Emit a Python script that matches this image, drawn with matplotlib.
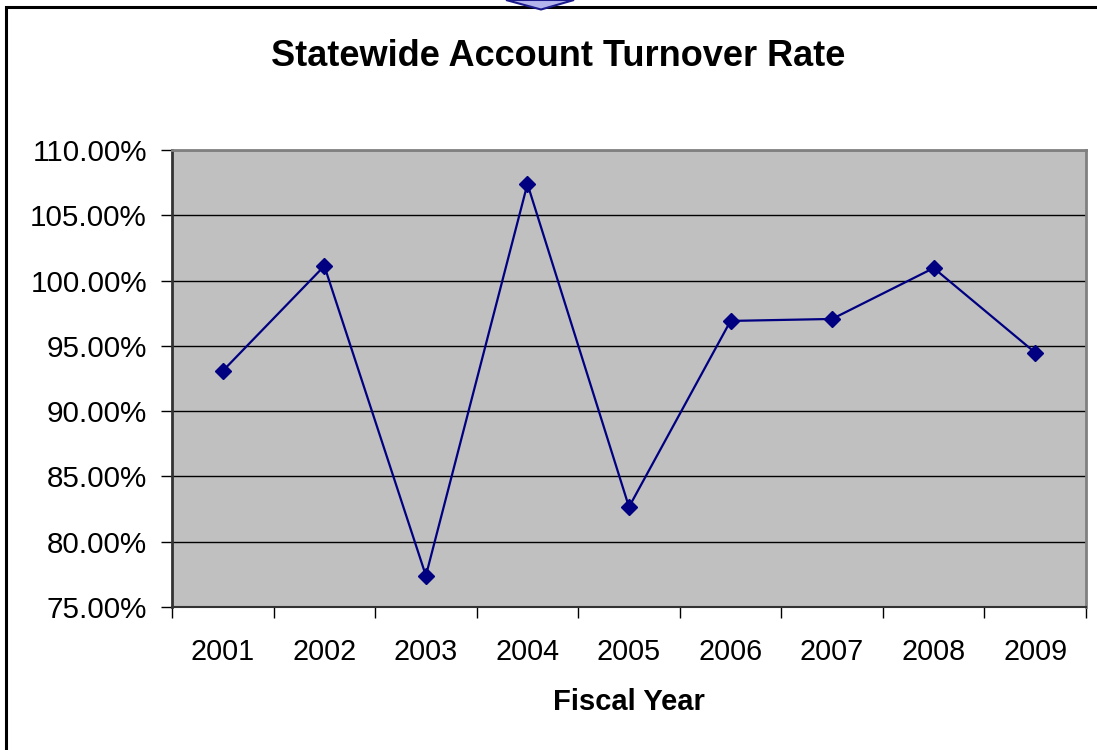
import matplotlib
matplotlib.use("Agg")
import matplotlib.pyplot as plt
from matplotlib.patches import Rectangle, Polygon
from matplotlib.ticker import FixedLocator, FuncFormatter

plt.rcParams['font.family'] = ['Liberation Sans', 'DejaVu Sans']

years = ['2001', '2002', '2003', '2004', '2005', '2006', '2007', '2008', '2009']
turnover_rate = [93.08, 101.12, 77.40, 107.40, 82.66, 96.91, 97.06, 100.96, 94.48]

fig = plt.figure(figsize=(10.97, 7.5), dpi=100)
ax = fig.add_axes([172 / 1097, 1 - 607 / 750, 914 / 1097, 457 / 750])

# outer chart frame (runs off the right/bottom edge of the crop)
W, H = 1097, 750
fig.patches.append(Rectangle((6 / W, -0.1), 1.2, 1 - 7.5 / H + 0.1,
                             transform=fig.transFigure, fill=False,
                             edgecolor='black', linewidth=2.2, zorder=0))
# bit of a shape sticking in from above
fig.patches.append(Polygon([(506 / W, 1.0), (541 / W, 1 - 9.5 / H), (574 / W, 1.0)],
                           closed=True, transform=fig.transFigure,
                           facecolor='#b4b4ec', edgecolor='#1a1a8c',
                           linewidth=1.5, zorder=3))

ax.set_facecolor('#c0c0c0')
x = list(range(len(years)))
ax.plot(x, turnover_rate, color='#000080', linewidth=1.6,
        marker='D', markersize=8, zorder=3)

ax.set_ylim(75, 110)
ax.set_yticks([75, 80, 85, 90, 95, 100, 105, 110])
ax.yaxis.set_major_formatter(FuncFormatter(lambda v, p: f'{v:.2f}%'))
ax.grid(axis='y', color='black', linewidth=1.0)
ax.set_axisbelow(True)

ax.set_xlim(-0.5, len(years) - 0.5)
ax.set_xticks(x)
ax.set_xticklabels(years)
ax.xaxis.set_minor_locator(FixedLocator([i - 0.5 for i in range(len(years) + 1)]))
ax.tick_params(axis='x', which='major', length=0, pad=22, labelsize=20.7)
ax.tick_params(axis='x', which='minor', length=8, direction='out', width=1)
ax.tick_params(axis='y', length=8, width=1, direction='out', pad=10, labelsize=21.3)

for side in ['top', 'right']:
    ax.spines[side].set_color('#808080')
    ax.spines[side].set_linewidth(2)
ax.spines['left'].set_color('#333333')
ax.spines['left'].set_linewidth(2)
ax.spines['bottom'].set_color('#333333')
ax.spines['bottom'].set_linewidth(1.5)

fig.text(558 / W, 1 - 56 / H, 'Statewide Account Turnover Rate',
         ha='center', va='center', fontsize=26, fontweight='bold')
fig.text(629 / W, 1 - 702 / H, 'Fiscal Year', ha='center', va='center',
         fontsize=21, fontweight='bold')

fig.savefig('out.png', dpi=100, facecolor='white')
